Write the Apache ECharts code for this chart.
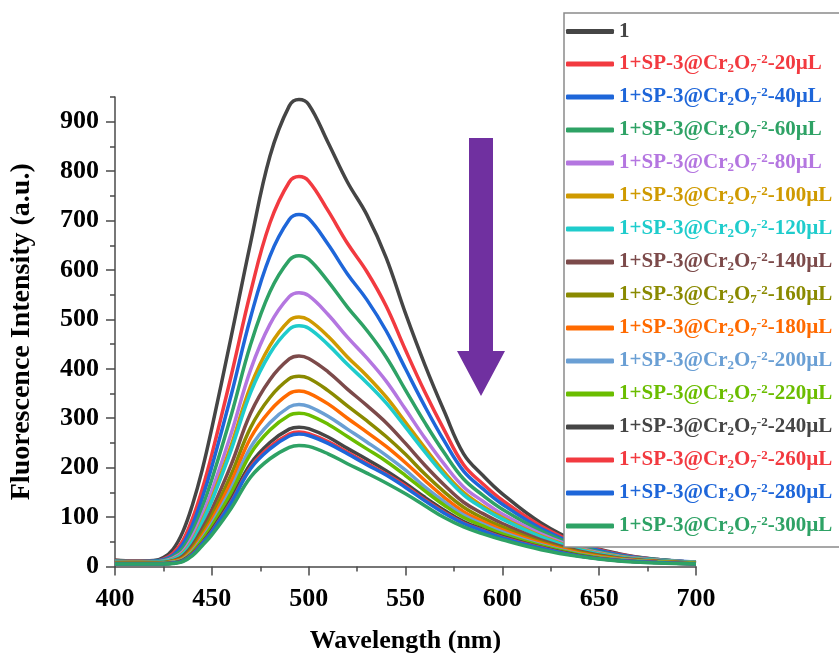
<!DOCTYPE html>
<html>
<head>
<meta charset="utf-8">
<script src="https://cdn.jsdelivr.net/npm/echarts@6/dist/echarts.min.js"></script>
<style>
  html, body { margin: 0; padding: 0; background: #fff; }
  #chart { width: 839px; height: 653px; }
</style>
</head>
<body>
<div id="chart"></div>
<script>
// Emission wavelengths (nm)
const wavelengths = [400,410,420,425,430,435,440,445,450,460,470,480,490,495,500,510,520,530,540,550,560,570,580,590,600,620,640,660,680,700];

// Fluorescence intensity (a.u.) for each sample
const s1    = [13,11,12,18,35,70,125,195,280,465,655,830,932,945,935,858,778,712,625,512,408,314,228,184,147,88,48,26,14,8];
const s20   = [12,11,11,15,27,52,97,156,227,386,555,695,778,789,780,720,654,597,527,438,353,276,206,167,134,82,45,25,14,8];
const s40   = [11,10,11,14,23,45,84,138,202,347,504,628,702,712,704,652,592,540,477,400,324,254,193,157,126,77,43,24,14,9];
const s60   = [11,10,10,12,20,37,71,119,176,306,449,556,620,629,622,577,525,478,424,357,291,230,177,144,116,72,40,22,14,8];
const s80   = [10,9,9,11,17,30,60,103,153,269,398,490,546,554,548,510,464,422,375,318,260,207,161,132,106,66,37,21,13,8];
const s100  = [9,9,9,10,15,27,53,93,138,245,365,447,498,505,499,466,424,386,343,292,240,191,150,122,99,62,35,20,12,8];
const s120  = [9,8,9,10,14,25,51,89,133,236,352,431,480,487,482,449,409,372,331,282,232,185,145,118,96,60,34,19,12,8];
const s140  = [8,8,8,8,12,21,43,76,115,206,310,378,420,426,421,394,359,326,291,249,205,165,130,107,87,54,31,17,11,7];
const s160  = [7,7,7,8,11,18,38,68,103,186,281,342,380,385,381,356,325,295,263,227,187,151,120,98,80,50,29,16,10,7];
const s180  = [7,7,7,7,10,16,34,62,94,171,260,315,350,355,351,329,300,272,243,210,174,140,111,91,74,47,27,15,10,6];
const s200  = [6,6,6,7,9,14,31,57,87,158,241,291,323,328,324,304,278,252,225,195,161,131,104,86,70,44,25,14,9,6];
const s220  = [6,6,6,6,8,13,29,54,82,149,228,276,306,310,307,288,263,238,213,184,153,124,99,82,66,42,24,13,9,6];
const s240  = [6,6,6,6,7,12,26,48,74,136,208,251,278,282,279,262,239,217,194,168,140,114,91,75,61,39,22,12,8,5];
const s260  = [5,5,5,5,7,11,25,47,71,131,201,242,268,272,269,253,231,209,187,163,135,110,88,73,59,38,21,12,8,5];
const s280  = [5,5,5,5,7,11,24,46,70,129,198,238,264,268,265,249,228,206,185,160,133,108,87,72,58,37,21,12,8,5];
const s300  = [5,5,5,5,6,10,22,42,64,118,181,218,241,245,243,228,208,189,169,147,123,99,80,66,54,34,20,11,7,5];

const seriesValues = [s1,s20,s40,s60,s80,s100,s120,s140,s160,s180,s200,s220,s240,s260,s280,s300];
const doses = ['', '20','40','60','80','100','120','140','160','180','200','220','240','260','280','300'];
const colors = ['#454545','#f23a40','#1e66d9','#2ea265','#b476e0','#cf9a00','#1fcccc','#7c4a4a','#8a8a00',
                '#ff6a00','#6a9fd4','#6bbd00','#454545','#f23a40','#1e66d9','#2ea265'];

// Axis tick labels
const xTicks = [400,450,500,550,600,650,700];
const yTicks = [0,100,200,300,400,500,600,700,800,900];
const yMinorTicks = [50,150,250,350,450,550,650,750,850,950];

const names = doses.map(d => d === '' ? '1' : '1+SP-3@Cr2O7-2-' + d + 'µL');

const serif = "'Liberation Serif', 'Times New Roman', serif";
const axisColor = '#4a4a4a';

const chart = echarts.init(document.getElementById('chart'), null, { renderer: 'canvas' });

const series = seriesValues.map((vals, i) => ({
  name: names[i],
  type: 'line',
  data: wavelengths.map((w, k) => [w, vals[k]]),
  showSymbol: false,
  symbol: 'none',
  smooth: 0.4,
  lineStyle: { width: 3.5, color: colors[i] },
  itemStyle: { color: colors[i] },
  yAxisIndex: 0,
  z: 2
}));

const option = {
  animation: false,
  backgroundColor: '#ffffff',
  grid: { left: 115, right: 143, top: 97, bottom: 86.5, containLabel: false, outerBoundsMode: 'none' },
  xAxis: {
    type: 'value',
    min: 400, max: 700, interval: 50,
    name: 'Wavelength (nm)',
    nameLocation: 'middle',
    nameGap: 62,
    nameTextStyle: { fontFamily: serif, fontWeight: 'bold', fontSize: 26, color: '#000' },
    axisLine: { show: true, lineStyle: { color: axisColor, width: 1.5 } },
    axisTick: { show: true, inside: false, length: 9, lineStyle: { color: axisColor, width: 1.5 } },
    minorTick: { show: true, splitNumber: 2, length: 5, lineStyle: { color: axisColor, width: 1.5 } },
    splitLine: { show: false },
    minorSplitLine: { show: false },
    axisLabel: {
      margin: 20,
      fontFamily: serif, fontWeight: 'bold', fontSize: 26, color: '#000',
      customValues: xTicks
    }
  },
  yAxis: [{
    type: 'value',
    position: 'left',
    min: 0, max: 950,
    name: 'Fluorescence Intensity (a.u.)',
    nameLocation: 'middle',
    nameGap: 79,
    nameTextStyle: { fontFamily: serif, fontWeight: 'bold', fontSize: 28, color: '#000' },
    axisLine: { show: true, lineStyle: { color: axisColor, width: 1.5 } },
    axisTick: { show: true, inside: false, length: 9, lineStyle: { color: axisColor, width: 1.5 }, customValues: yTicks },
    splitLine: { show: false },
    axisLabel: {
      margin: 16,
      fontFamily: serif, fontWeight: 'bold', fontSize: 26, color: '#000',
      customValues: yTicks
    }
  }, {
    type: 'value',
    position: 'left',
    min: 0, max: 950,
    axisLine: { show: false },
    axisTick: { show: true, inside: false, length: 5, lineStyle: { color: axisColor, width: 1.5 }, customValues: yMinorTicks },
    axisLabel: { show: false },
    splitLine: { show: false }
  }],
  legend: {
    orient: 'vertical',
    left: 564, top: 13,
    padding: [8, 40, 10, 2],
    itemGap: 11,
    itemWidth: 48,
    itemHeight: 5,
    icon: 'roundRect',
    backgroundColor: '#ffffff',
    borderColor: '#8a8a8a',
    borderWidth: 1.5,
    borderRadius: 0,
    z: 10,
    data: names.map((n, i) => ({ name: n, textStyle: { color: colors[i] } })),
    formatter: function (name) {
      if (name === '1') return '{n|1}';
      const dose = name.slice(name.lastIndexOf('-') + 1);
      return '{n|1+SP-3@Cr}{sub|2}{n|O}{sub|7}{sup|-2}{n|-' + dose + '}';
    },
    textStyle: {
      fontFamily: serif, fontWeight: 'bold', fontSize: 21,
      rich: {
        n: { fontFamily: serif, fontWeight: 'bold', fontSize: 21, lineHeight: 22 },
        sub: { fontFamily: serif, fontWeight: 'bold', fontSize: 13, lineHeight: 13, verticalAlign: 'bottom', padding: [7, 0, 0, 0] },
        sup: { fontFamily: serif, fontWeight: 'bold', fontSize: 13, lineHeight: 13, verticalAlign: 'top', padding: [0, 0, 3, 0] }
      }
    }
  },
  graphic: [{
    // downward trend arrow
    type: 'polygon',
    z: 5,
    shape: {
      points: [[469,138],[493,138],[493,351],[505,351],[481,396],[457,351],[469,351]]
    },
    style: { fill: '#7030a0' }
  }],
  series: series
};

chart.setOption(option);
</script>
</body>
</html>
